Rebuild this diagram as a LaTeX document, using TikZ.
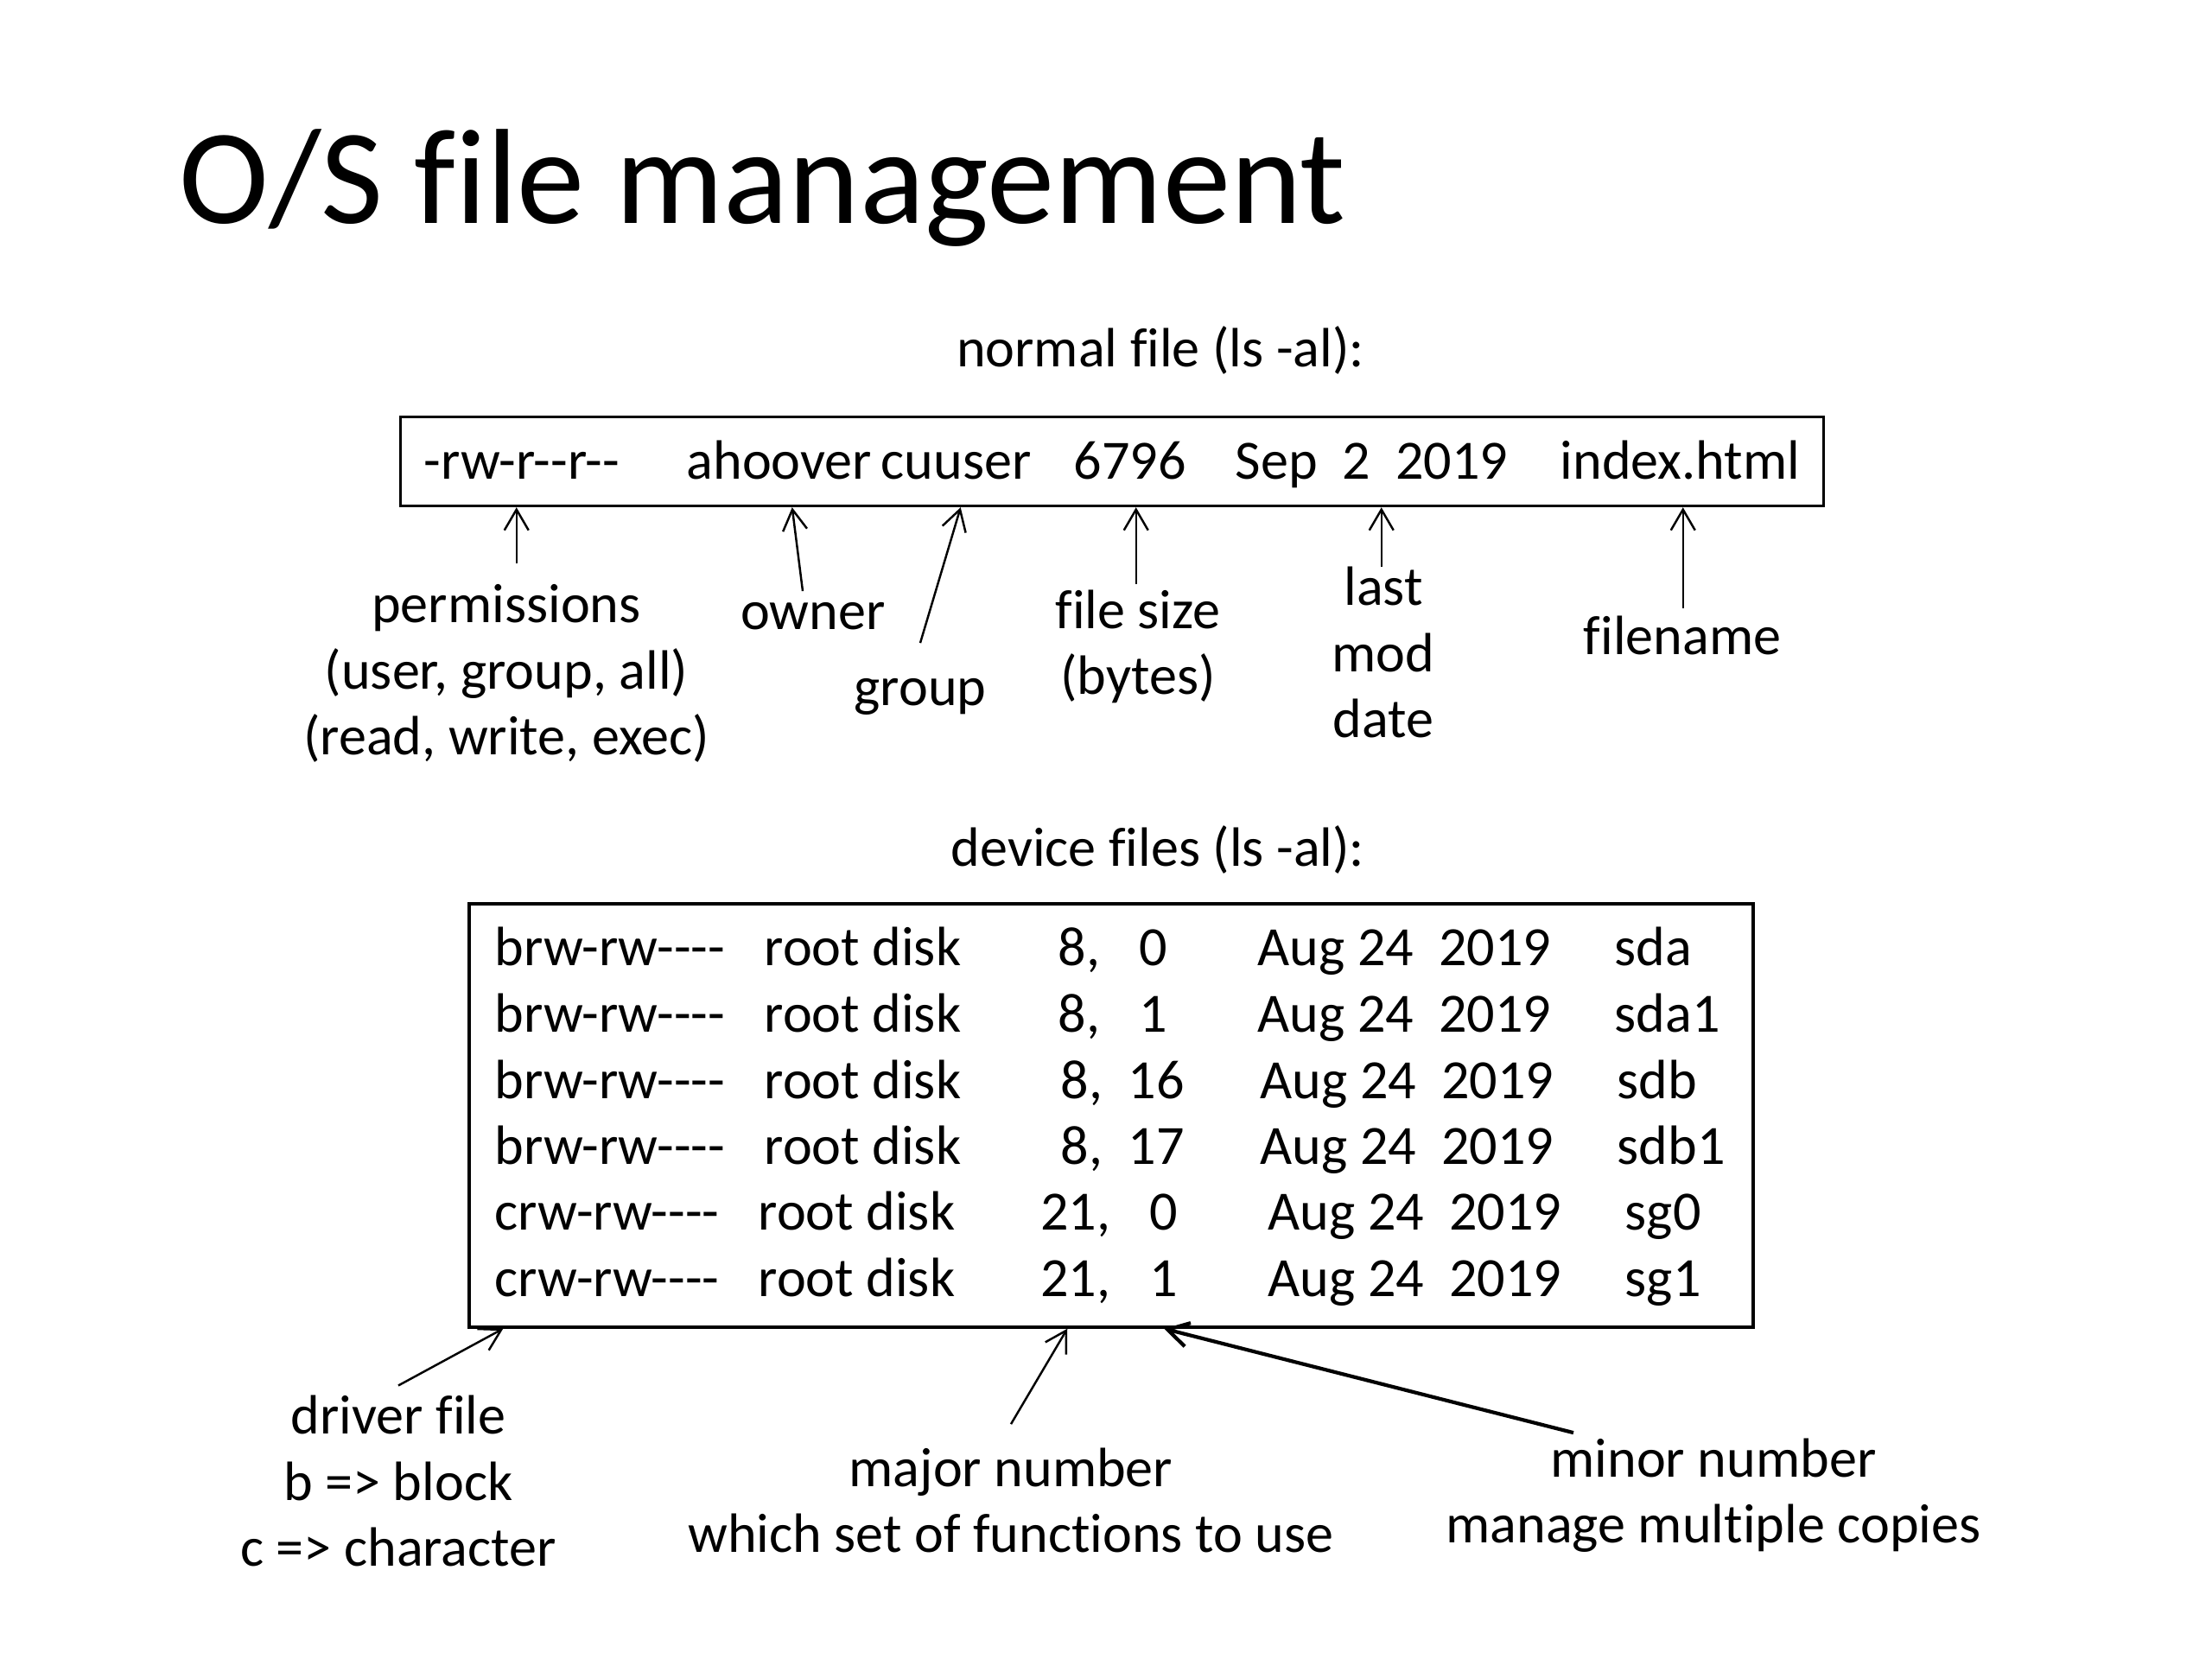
\documentclass[tikz,border=0pt]{standalone}
\usepackage{fontspec}
\setmainfont{Carlito}[Ligatures={TeXOff,NoCommon}]
\usetikzlibrary{arrows.meta}
\tikzset{
    every node/.style={font=\fontsize{18.25}{21.8}\selectfont, inner sep=0pt}
}
\tikzset{
    note/.style={align=center, anchor=base},
    item/.style={anchor=base west},
    box/.style={draw, line width=1pt},
    ptr/.style={-{Straight Barb[length=2.4mm,width=2.8mm]}, line width=0.7pt}
}

\begin{document}
\begin{tikzpicture}
	\useasboundingbox (0,0) rectangle (25.6,19.2);
	\node (title) [anchor=base west, font=\fontsize{44.6}{53}\selectfont] at (2.07,16.61) {O/S file management};

	% normal file
	\node (normal) [note] at (13.43,14.95) {normal file (ls -al):};
	\node (ls) [box, minimum width=16.47cm, minimum height=1.03cm] at (12.87,13.86) {};
	\node (perm) [item] at (4.90,13.65) {-rw-r--r--};
	\node (owner) [item] at (7.94,13.65) {ahoover};
	\node (group) [item] at (10.19,13.65) {cuuser};
	\node (size) [item] at (12.42,13.65) {6796};
	\node (date) [item] at (14.29,13.65) {Sep\ \ 2\ \ 2019};
	\node (fname) [item] at (18.05,13.65) {index.html};

	\coordinate (permtip) at ([xshift=13.6mm]ls.south west);
	\coordinate (owntip) at ([xshift=45.5mm]ls.south west);
	\coordinate (grptip) at ([xshift=65.0mm]ls.south west);
	\coordinate (sizetip) at ([xshift=85.3mm]ls.south west);
	\coordinate (datetip) at ([xshift=113.7mm]ls.south west);
	\coordinate (nametip) at ([xshift=148.6mm]ls.south west);

	\node (permlbl) [note, inner ysep=2.4mm] at (5.86,10.46) {permissions\\(user, group, all)\\(read, write, exec)};
	\node (ownlbl) [note, inner ysep=1.3mm] at (9.41,11.91) {owner};
	\node (grplbl) [note, inner ysep=4.1mm] at (10.65,11.03) {group};
	\node (sizelbl) [note, inner ysep=0.6mm] at (13.17,11.16) {file size\\(bytes)};
	\node (datelbl) [note] at (16.01,10.66) {last\\mod\\date};
	\node (namelbl) [note, inner ysep=0.9mm] at (19.47,11.62) {filename};

	\draw[ptr] (permlbl.north -| permtip) -- (permtip);
	\draw[ptr] ([xshift=-1.2mm]ownlbl.north) -- (owntip);
	\draw[ptr] (grplbl.north) -- (grptip);
	\draw[ptr] (sizelbl.north -| sizetip) -- (sizetip);
	\draw[ptr] (datelbl.north -| datetip) -- (datetip);
	\draw[ptr] (namelbl.north -| nametip) -- (nametip);

	% device files
	\node (device) [note] at (13.40,9.17) {device files (ls -al):};
	\node (dev) [box, minimum width=14.86cm, minimum height=4.90cm] at (12.86,6.29) {};
	\foreach \y/\k/\r/\maj/\mnr/\nm/\s [count=\i] in {
		8.02/b/8.84/8/0/sda/0, 7.25/b/8.84/8/1/sda1/0,
		6.48/b/8.84/8/16/sdb/0.03, 5.72/b/8.84/8/17/sdb1/0.03,
		4.96/c/8.77/21/0/sg0/0.12, 4.19/c/8.77/21/1/sg1/0.12} {
		\node (kind\i) [item] at (5.72,\y) {\k rw-rw----};
		\node (disk\i) [item] at (\r,\y) {root disk};
		\node (maj\i) [anchor=base east] at (12.74+\s,\y) {\maj,};
		\node (min\i) [anchor=base] at (13.35+\s,\y) {\mnr};
		\node (day\i) [item] at (14.55+\s,\y) {Aug 24\ \ 2019};
		\node (dname\i) [item] at (18.68+\s,\y) {\nm};
	}

	\coordinate (drvtip) at ([xshift=4.1mm]dev.south west);
	\coordinate (majtip) at ([xshift=69.4mm]dev.south west);
	\coordinate (mintip) at ([xshift=80.6mm]dev.south west);

	\node (drvlbl) [note, inner ysep=1.1mm] at (4.61,1.07) {driver file\\b => block\\c => character};
	\node (majlbl) [note, inner ysep=2.7mm] at (11.70,1.23) {major number\\which set of functions to use};
	\node (minlbl) [note, inner ysep=0.6mm] at (19.83,1.34) {minor number\\manage multiple copies};

	\draw[ptr] (drvlbl.north) -- (drvtip);
	\draw[ptr] (majlbl.north) -- (majtip);
	\draw[ptr, line width=1.2pt] ([xshift=-16.2mm]minlbl.north) -- (mintip);
\end{tikzpicture}
\end{document}
